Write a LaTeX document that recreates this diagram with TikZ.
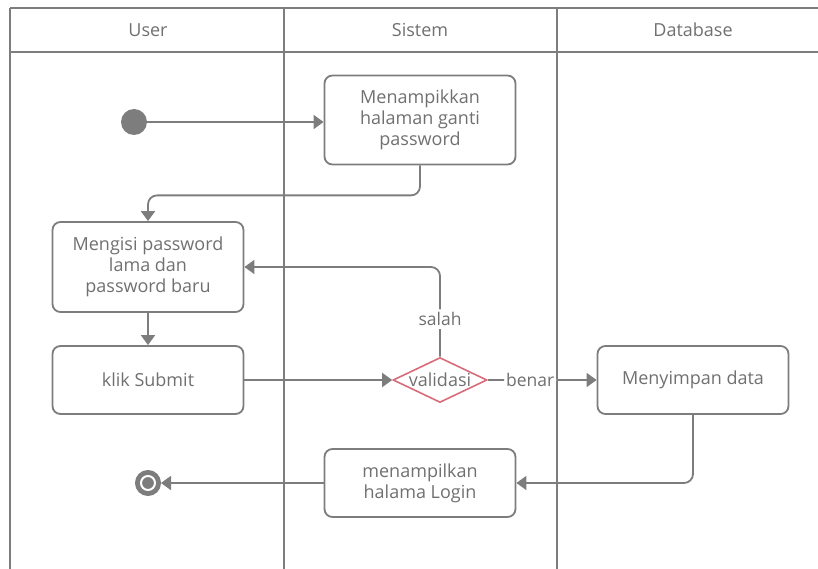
\documentclass[tikz,border=0pt]{standalone}
\usepackage{fontspec}
\setmainfont{Open Sans}
\usepackage{xcolor}
\usepackage{tikz}
\usetikzlibrary{arrows.meta,shapes.geometric}

\definecolor{lanegray}{HTML}{7D7D7D}
\definecolor{textgray}{HTML}{707070}
\definecolor{decred}{HTML}{D96B7A}

\begin{document}
\begin{tikzpicture}[x=1pt, y=-1pt,
    act/.style={draw=lanegray, line width=1.8pt, rounded corners=8pt, minimum width=191pt, minimum height=68pt, align=center, text=textgray, font=\fontsize{18}{21}\selectfont},
    flow/.style={draw=lanegray, line width=1.8pt, rounded corners=9pt, -{Triangle[width=14pt,length=10pt]}},
    lbl/.style={fill=white, text=textgray, inner sep=3pt, font=\fontsize{17.5}{21}\selectfont},
    head/.style={text=textgray, font=\fontsize{18}{21}\selectfont}]
    \useasboundingbox (0,0) rectangle (818,569);

    % swimlanes
    \draw [lanegray, line width=1.8pt] (10,8) -- (818,8) (10,52) -- (818,52);
    \draw [lanegray, line width=1.8pt] (10,8) -- (10,569) (284,8) -- (284,569) (557,8) -- (557,569);
    \node[head] (hUser) at (148,30) {User};
    \node[head] (hSistem) at (420,30) {Sistem};
    \node[head] (hDb) at (693,30) {Database};

    % nodes
    \node[shape=circle, fill=lanegray, minimum size=26pt, inner sep=0pt] (start) at (134,122) {};
    \node[act, minimum height=89pt] (tampil) at (420,120) {Menampikkan\\halaman ganti\\password};
    \node[act, minimum height=90pt] (isi) at (148,267) {Mengisi password\\lama dan\\password baru};
    \node[act] (submit) at (148,380) {klik Submit};
    \node[shape=diamond, draw=decred, line width=1.6pt, shape aspect=2.6, inner sep=-3pt, minimum width=94pt, minimum height=45pt, text=textgray, font=\fontsize{18}{21}\selectfont] (valid) at (440,380) {validasi};
    \node[act] (simpan) at (693,380) {Menyimpan data};
    \node[act] (login) at (420,483) {menampilkan\\halama Login};
    \node[shape=circle, draw=lanegray, fill=lanegray, line width=2pt, minimum size=24pt, inner sep=0pt,
          path picture={\draw[white, line width=2pt] (path picture bounding box.center) circle (7pt);}] (end) at (148,483) {};

    % connectors
    \draw [flow] (start) -- (start -| tampil.west);
    \draw [flow] (tampil.south) -- ++(0,30) -| (isi.north);
    \draw [flow] (isi) -- (submit);
    \draw [flow] (submit) -- (valid);
    \draw [flow] (valid.north) |- node[lbl, pos=0.21] {salah} (isi.east);
    \draw [flow] (valid.east) -- node[lbl, pos=0.39, inner sep=2pt] {benar} (simpan.west);
    \draw [flow] (simpan.south) |- (login.east);
    \draw [flow] (login) -- (end);
\end{tikzpicture}
\end{document}
